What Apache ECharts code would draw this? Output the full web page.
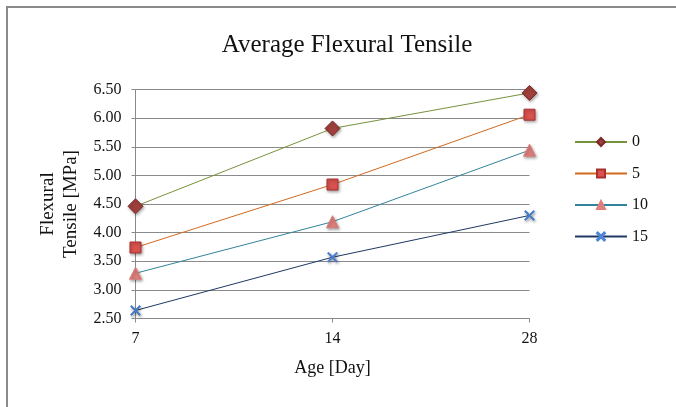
<!DOCTYPE html>
<html>
<head>
<meta charset="utf-8">
<script src="https://cdn.jsdelivr.net/npm/echarts@6/dist/echarts.min.js"></script>
<style>
html,body{margin:0;padding:0;background:#fff;}
#chart{width:676px;height:407px;}
</style>
</head>
<body>
<div id="chart"></div>
<script>
var categories = ['7', '14', '28'];
var seriesNames = ['0', '5', '10', '15'];
var values0 = [4.46, 5.82, 6.44];
var values5 = [3.74, 4.84, 6.06];
var values10 = [3.29, 4.19, 5.44];
var values15 = [2.64, 3.57, 4.30];
var yTicks = [2.5, 3.0, 3.5, 4.0, 4.5, 5.0, 5.5, 6.0, 6.5];

var FONT = 'Liberation Serif';
var xPath = 'path://M0,1 L1,0 L5,4 L9,0 L10,1 L6,5 L10,9 L9,10 L5,6 L1,10 L0,9 L4,5 Z';
var shadow = {shadowBlur: 3, shadowColor: 'rgba(0,0,0,0.35)', shadowOffsetX: 1, shadowOffsetY: 1.5};

function mk(name, data, lineColor, symbol, size, fill, border) {
  return {
    name: name, type: 'line', data: data,
    symbol: symbol, symbolSize: size,
    showAllSymbol: true,
    lineStyle: {color: lineColor, width: 1},
    itemStyle: Object.assign({color: fill, borderColor: border, borderWidth: 1}, shadow),
    emphasis: {disabled: true},
    animation: false
  };
}

var chart = echarts.init(document.getElementById('chart'));
chart.setOption({
  animation: false,
  backgroundColor: '#fff',
  title: {
    text: 'Average Flexural Tensile',
    left: 342, top: 28, textAlign: 'center',
    textStyle: {fontFamily: FONT, fontSize: 25, fontWeight: 'normal', color: '#111'}
  },
  graphic: [{
    type: 'rect', shape: {x: 7, y: 7, width: 720, height: 440},
    style: {fill: 'none', stroke: '#8a8a8a', lineWidth: 2}, silent: true
  }],
  grid: {left: 135.5, right: 146.5, top: 89.5, bottom: 88.5, containLabel: false},
  legend: {
    orient: 'vertical', left: 569, top: 128,
    itemWidth: 52, itemHeight: 10, itemGap: 13.5,
    data: seriesNames,
    textStyle: {fontFamily: FONT, fontSize: 16, color: '#111', lineHeight: 18}
  },
  xAxis: {
    type: 'category', data: categories, boundaryGap: false,
    name: 'Age [Day]', nameLocation: 'middle', nameGap: 41,
    nameTextStyle: {fontFamily: FONT, fontSize: 18, color: '#111'},
    axisLine: {lineStyle: {color: '#8a8a8a', width: 1}},
    axisTick: {show: true, length: 4, lineStyle: {color: '#8a8a8a'}},
    axisLabel: {fontFamily: FONT, fontSize: 16, color: '#111', margin: 12},
    splitLine: {show: false}
  },
  yAxis: {
    type: 'value', min: yTicks[0], max: yTicks[yTicks.length - 1], interval: 0.5,
    name: 'Flexural\nTensile [MPa]', nameLocation: 'middle', nameGap: 51,
    nameTextStyle: {fontFamily: FONT, fontSize: 19, color: '#111', lineHeight: 23},
    axisLine: {show: true, lineStyle: {color: '#8a8a8a', width: 1}},
    axisTick: {show: true, length: 4, lineStyle: {color: '#8a8a8a'}},
    axisLabel: {fontFamily: FONT, fontSize: 16, color: '#111', margin: 14,
      formatter: function (v) { return v.toFixed(2); }},
    splitLine: {show: true, lineStyle: {color: '#8a8a8a', width: 1}}
  },
  series: [
    mk(seriesNames[0], values0, '#76923C', 'diamond', 15, '#A0403C', '#7A2A28'),
    mk(seriesNames[1], values5, '#D2691E', 'rect', 11, '#D9524F', '#A8302D'),
    mk(seriesNames[2], values10, '#31849B', 'triangle', 12, '#DE7F7C', '#DE7F7C'),
    mk(seriesNames[3], values15, '#1F3864', xPath, 10, '#4F86D6', '#4F86D6')
  ]
});
</script>
</body>
</html>
